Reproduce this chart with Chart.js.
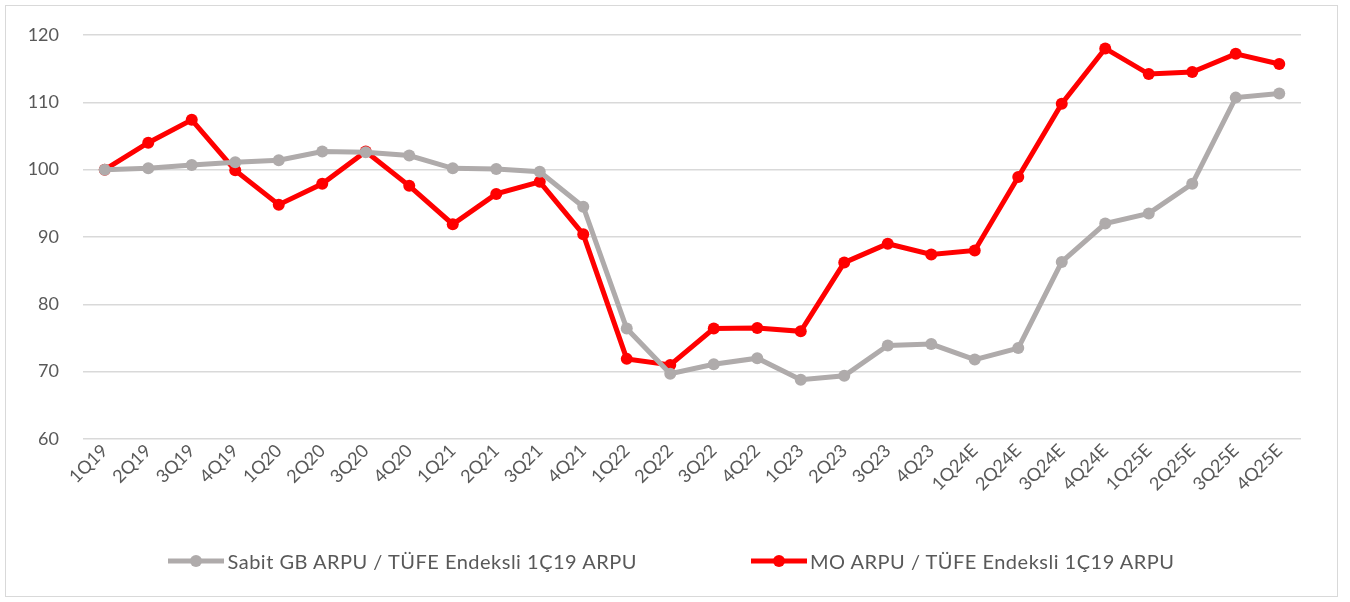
<!DOCTYPE html>
<html>
<head>
<meta charset="utf-8">
<script src="https://cdn.jsdelivr.net/npm/chart.js@4"></script>
<style>
  body { margin: 0; background: #fff; }
  .frame {
    position: absolute; left: 5px; top: 5px;
    width: 1331px; height: 590px;
    border: 1px solid #d9d9d9; background: #fff;
  }
  .legend {
    position: absolute; left: 0; top: 539px; width: 1331px; height: 32px;
    display: flex; justify-content: center; align-items: center;
    font-family: Lato, sans-serif; font-size: 20px; letter-spacing: 0.5px; color: #595959;
  }
  .legend-item { display: flex; align-items: center; margin: 0 57px; }
  .legend-item canvas { margin-right: 3px; }
</style>
</head>
<body>
<div class="frame">
  <canvas id="chart" width="1331" height="590"></canvas>
  <div class="legend" id="legend"></div>
</div>
<script>
// kategoriler (çeyrekler)
const quarters = ["1Q19","2Q19","3Q19","4Q19","1Q20","2Q20","3Q20","4Q20","1Q21","2Q21","3Q21","4Q21",
  "1Q22","2Q22","3Q22","4Q22","1Q23","2Q23","3Q23","4Q23","1Q24E","2Q24E","3Q24E","4Q24E",
  "1Q25E","2Q25E","3Q25E","4Q25E"];

// Sabit GB ARPU / TÜFE endeksli
const sabitGb = [100, 100.2, 100.7, 101.1, 101.4, 102.7, 102.6, 102.1, 100.2, 100.1, 99.7, 94.5,
  76.4, 69.7, 71.1, 72.0, 68.8, 69.4, 73.9, 74.1, 71.8, 73.5, 86.3, 92.0,
  93.5, 97.9, 110.7, 111.3];

// MO ARPU / TÜFE endeksli
const moArpu = [100, 104.0, 107.4, 99.9, 94.8, 97.9, 102.7, 97.6, 91.9, 96.4, 98.2, 90.4,
  71.9, 71.0, 76.4, 76.5, 76.0, 86.2, 89.0, 87.4, 88.0, 98.9, 109.8, 118.0,
  114.2, 114.5, 117.2, 115.7];

const seriesNames = ["Sabit GB ARPU / TÜFE Endeksli 1Ç19 ARPU", "MO ARPU / TÜFE Endeksli 1Ç19 ARPU"];
const yTicks = [60, 70, 80, 90, 100, 110, 120];

const grayColor = "#afabab";
const redColor = "#ff0000";
const textColor = "#595959";
const colors = [grayColor, redColor];

//marcador da legenda: linha com bolinha
function legendMarker(color) {
  const c = document.createElement("canvas");
  c.width = 56; c.height = 14;
  const ctx = c.getContext("2d");
  ctx.strokeStyle = color;
  ctx.lineWidth = 5;
  ctx.beginPath();
  ctx.moveTo(0, 7); ctx.lineTo(56, 7);
  ctx.stroke();
  ctx.fillStyle = color;
  ctx.beginPath();
  ctx.arc(28, 7, 6, 0, Math.PI * 2);
  ctx.fill();
  return c;
}

//legenda em html
const legendDiv = document.getElementById("legend");
seriesNames.forEach((name, i) => {
  const item = document.createElement("div");
  item.className = "legend-item";
  item.appendChild(legendMarker(colors[i]));
  const span = document.createElement("span");
  span.textContent = name;
  item.appendChild(span);
  legendDiv.appendChild(item);
});

const lineDataset = (label, values, color) => ({
  label: label,
  data: values,
  borderColor: color,
  backgroundColor: color,
  borderWidth: 5,
  pointRadius: 6,
  pointBackgroundColor: color,
  pointBorderWidth: 0,
  tension: 0,
});

new Chart(document.getElementById("chart"), {
  type: "line",
  data: {
    labels: quarters,
    datasets: [
      lineDataset(seriesNames[0], sabitGb, grayColor),
      lineDataset(seriesNames[1], moArpu, redColor),
    ],
  },
  options: {
    responsive: false,
    animation: false,
    layout: { padding: { top: 29, right: 36, bottom: 57, left: 0 } },
    plugins: {
      tooltip: { enabled: false },
      legend: { display: false },
    },
    scales: {
      x: {
        offset: true,
        grid: { display: false },
        border: { display: false },
        ticks: {
          color: textColor,
          font: { family: "Lato", size: 18 },
          minRotation: 45,
          maxRotation: 45,
          autoSkip: false,
          padding: -7,
        },
        afterFit: (axis) => { axis.height = 100; },
      },
      y: {
        min: 60,
        max: 120,
        afterBuildTicks: (axis) => { axis.ticks = yTicks.map((v) => ({ value: v })); },
        // tick invisível só pra afastar os rótulos
        grid: { color: "#d9d9d9", lineWidth: 1.5, drawTicks: true, tickLength: 20, tickColor: "rgba(0,0,0,0)" },
        border: { display: false },
        ticks: {
          color: textColor,
          font: { family: "Lato", size: 18 },
          padding: 4,
        },
        afterFit: (axis) => { axis.width = 77; },
      },
    },
  },
});
</script>
</body>
</html>
